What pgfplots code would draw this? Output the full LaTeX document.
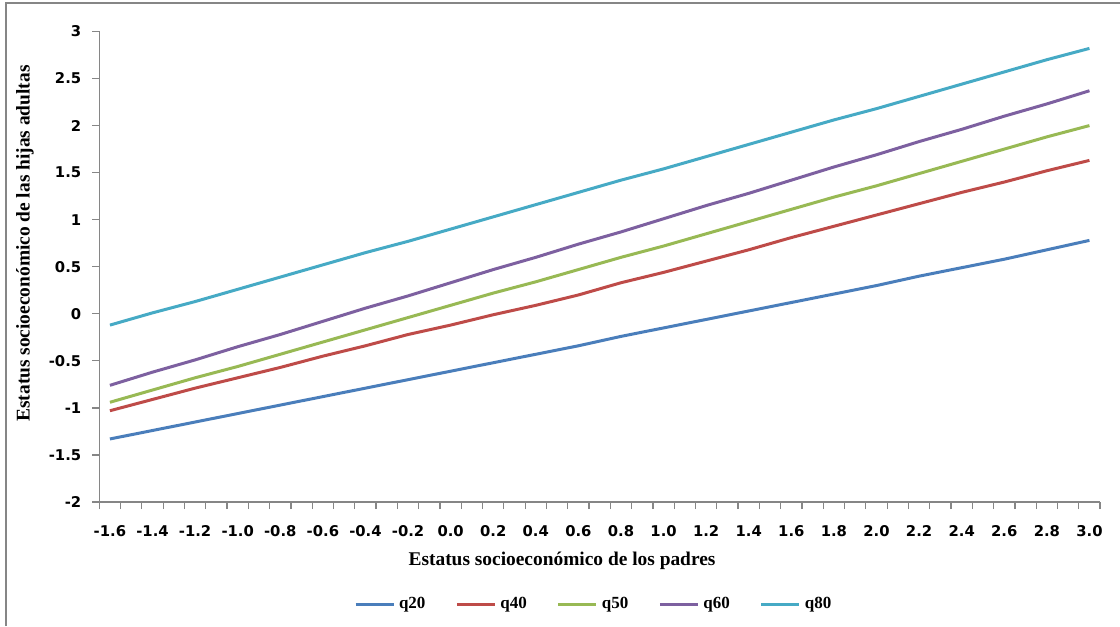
\documentclass[border=0pt]{standalone}
\usepackage{pgfplots}
\pgfplotsset{compat=1.18}
\usepackage{fontspec}
\setmainfont{Liberation Serif}
\newfontfamily\tickfont{DejaVu Sans}
\definecolor{c20}{HTML}{4A7EBB}
\definecolor{c40}{HTML}{BE4B48}
\definecolor{c50}{HTML}{98B954}
\definecolor{c60}{HTML}{7D60A0}
\definecolor{c80}{HTML}{46AAC5}
\definecolor{axgray}{HTML}{868686}
\pgfplotstableread{
x q20 q40 q50 q60 q80
-1.6 -1.33 -1.03 -0.94 -0.76 -0.12
-1.4 -1.24 -0.91 -0.81 -0.62 0.01
-1.2 -1.15 -0.79 -0.68 -0.49 0.13
-1.0 -1.06 -0.68 -0.56 -0.35 0.26
-0.8 -0.97 -0.57 -0.43 -0.22 0.39
-0.6 -0.88 -0.45 -0.30 -0.08 0.52
-0.4 -0.79 -0.34 -0.17 0.06 0.65
-0.2 -0.70 -0.22 -0.04 0.19 0.77
0.0 -0.61 -0.12 0.09 0.33 0.90
0.2 -0.52 -0.01 0.22 0.47 1.03
0.4 -0.43 0.09 0.34 0.60 1.16
0.6 -0.34 0.20 0.47 0.74 1.29
0.8 -0.24 0.33 0.60 0.87 1.42
1.0 -0.15 0.44 0.72 1.01 1.54
1.2 -0.06 0.56 0.85 1.15 1.67
1.4 0.03 0.68 0.98 1.28 1.80
1.6 0.12 0.81 1.11 1.42 1.93
1.8 0.21 0.93 1.24 1.56 2.06
2.0 0.30 1.05 1.36 1.69 2.18
2.2 0.40 1.17 1.49 1.83 2.31
2.4 0.49 1.29 1.62 1.96 2.44
2.6 0.58 1.40 1.75 2.10 2.57
2.8 0.68 1.52 1.88 2.23 2.70
3.0 0.78 1.63 2.00 2.37 2.82
}\datatable
\begin{document}
\begin{tikzpicture}
\begin{axis}[
  scale only axis,
  width=500.35pt, height=235.25pt,
  xmin=-1.65, xmax=3.05,
  ymin=-2, ymax=3,
  clip=false,
  axis lines*=left,
  axis line style={axgray, line width=0.6pt},
  xtick={-1.6,-1.4,...,3.05},
  xticklabels={-1.6,-1.4,-1.2,-1.0,-0.8,-0.6,-0.4,-0.2,0.0,0.2,0.4,0.6,0.8,1.0,1.2,1.4,1.6,1.8,2.0,2.2,2.4,2.6,2.8,3.0},
  minor xtick={-1.65,-1.55,...,3.1},
  major x tick style={draw=none},
  minor x tick style={axgray, line width=0.6pt},
  ytick={-2,-1.5,...,3},
  yticklabels={-2,-1.5,-1,-0.5,0,0.5,1,1.5,2,2.5,3},
  y tick style={axgray, line width=0.6pt},
  tick align=outside,
  major tick length=3.5pt,
  minor tick length=3.5pt,
  xticklabel style={font=\tickfont\bfseries\fontsize{7.4}{8}\selectfont, anchor=north, text height=6pt, text depth=0pt, yshift=-4pt},
  yticklabel style={font=\tickfont\bfseries\fontsize{7.4}{8}\selectfont, xshift=-2pt},
  every axis plot/.append style={line width=1.5pt, mark=none},
  legend style={at={(rel axis cs:0.495,-0.2179)}, anchor=center, draw=none, fill=none,
    font=\bfseries\fontsize{8.5}{9}\selectfont, legend columns=5,
    /tikz/every even column/.append style={column sep=13pt}},
  legend image code/.code={\draw[#1, line width=1.5pt] (0pt,0pt) -- (19pt,0pt);},
]
\addplot[c20] table[x=x,y=q20]{\datatable};
\addplot[c40] table[x=x,y=q40]{\datatable};
\addplot[c50] table[x=x,y=q50]{\datatable};
\addplot[c60] table[x=x,y=q60]{\datatable};
\addplot[c80] table[x=x,y=q80]{\datatable};
\legend{q20,q40,q50,q60,q80}
\node[rotate=90, font=\bfseries\fontsize{9.7}{10}\selectfont] at (rel axis cs:-0.0742,0.5494) {Estatus socioeconómico de las hijas adultas};
\node[font=\bfseries\fontsize{9.7}{10}\selectfont] at (rel axis cs:0.4624,-0.126) {Estatus socioeconómico de los padres};
\draw[axgray, line width=0.9pt] (rel axis cs:-0.0932,-0.2636) -- (rel axis cs:-0.0932,1.0606) -- (rel axis cs:1.0199,1.0606);
\coordinate (BL) at (rel axis cs:-0.0992,-0.2636);
\coordinate (TR) at (rel axis cs:1.0199,1.0669);
\end{axis}
\pgfresetboundingbox
\path[use as bounding box] (BL) rectangle (TR);
\end{tikzpicture}
\end{document}
